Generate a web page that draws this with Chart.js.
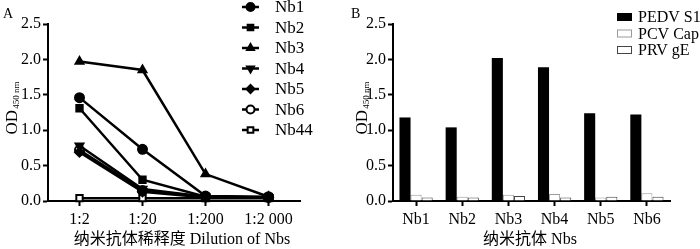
<!DOCTYPE html>
<html>
<head>
<meta charset="utf-8">
<script src="https://cdn.jsdelivr.net/npm/chart.js@4/dist/chart.umd.min.js"></script>
<style>
  html, body { margin: 0; padding: 0; background: #fff; }
  #wrap { position: relative; width: 700px; height: 249px; overflow: hidden; }
  .panel { position: absolute; top: 0; width: 350px; height: 249px; }
  #panelA { left: 0; }
  #panelB { left: 350px; }
</style>
</head>
<body>
<div id="wrap">
  <div class="panel" id="panelA"><canvas id="chartA"></canvas></div>
  <div class="panel" id="panelB"><canvas id="chartB"></canvas></div>
</div>
<script>
// Panel A: dilution curves
const dilutions = ['1:2', '1:20', '1:200', '1:2 000'];
const nb1 = [1.46, 0.73, 0.07, 0.06];
const nb2 = [1.31, 0.30, 0.06, 0.05];
const nb3 = [1.97, 1.85, 0.38, 0.06];
const nb4 = [0.78, 0.17, 0.06, 0.05];
const nb5 = [0.69, 0.13, 0.05, 0.05];
const nb6 = [0.72, 0.15, 0.06, 0.05];
const nb44 = [0.04, 0.04, 0.04, 0.04];

// Panel B: specificity bars
const nbNames = ['Nb1', 'Nb2', 'Nb3', 'Nb4', 'Nb5', 'Nb6'];
const pedvS1 = [1.18, 1.04, 2.02, 1.89, 1.24, 1.22];
const pcvCap = [0.09, 0.06, 0.09, 0.10, 0.05, 0.11];
const prvGe = [0.05, 0.05, 0.07, 0.05, 0.06, 0.06];

const yTicks = [0, 0.5, 1.0, 1.5, 2.0, 2.5];

const SERIF = '"Liberation Serif", "Times New Roman", serif';
const CJK = '"Liberation Serif", "Noto Sans CJK SC", serif';

function axisScales(labels, yWidth) {
  const grid = { display: true, drawOnChartArea: false, drawTicks: true, tickLength: 5, tickWidth: 2, tickColor: '#000', offset: false };
  return {
    x: {
      type: 'category', labels: labels, offset: true,
      grid: grid,
      border: { display: true, color: '#000', width: 2 },
      ticks: { color: '#000', font: { family: SERIF, size: 16 }, padding: 4, maxRotation: 0, autoSkip: false },
      afterFit(s) { s.height = 48; }
    },
    y: {
      min: 0, max: 2.5,
      grid: grid,
      border: { display: true, color: '#000', width: 2 },
      afterBuildTicks(s) { s.ticks = yTicks.map(v => ({ value: v })); },
      ticks: { color: '#000', font: { family: SERIF, size: 16 }, padding: 2, callback: v => Number(v).toFixed(1) },
      afterFit(s) { s.width = yWidth; }
    }
  };
}

// Y title "OD450 nm", x title, panel letter
function decorations(letter, letterX, xTitle, xTitleX) {
  return {
    id: 'decor' + letter,
    afterDraw(chart) {
      const ctx = chart.ctx;
      ctx.save();
      ctx.fillStyle = '#000';
      ctx.textBaseline = 'alphabetic';
      ctx.font = '14px ' + SERIF;
      ctx.textAlign = 'left';
      ctx.fillText(letter, letterX, 18);

      // rotated axis title with subscript
      ctx.save();
      ctx.translate(17, 108);
      ctx.rotate(-Math.PI / 2);
      ctx.font = '17px ' + SERIF;
      const w1 = ctx.measureText('OD').width;
      ctx.font = '9px ' + SERIF;
      const w2 = ctx.measureText('450 nm').width;
      const start = -(w1 + w2 + 1) / 2;
      ctx.font = '17px ' + SERIF;
      ctx.fillText('OD', start, 0);
      ctx.font = '9px ' + SERIF;
      ctx.fillText('450 nm', start + w1 + 1, 2);
      ctx.restore();

      ctx.font = '16px ' + CJK;
      ctx.textAlign = 'center';
      ctx.textBaseline = 'middle';
      ctx.fillText(xTitle, xTitleX, 240);
      ctx.restore();
    }
  };
}

const markerStyles = [
  { label: 'Nb1', data: nb1, pointStyle: 'circle', fill: '#000', rot: 0 },
  { label: 'Nb2', data: nb2, pointStyle: 'rect', fill: '#000', rot: 0 },
  { label: 'Nb3', data: nb3, pointStyle: 'triangle', fill: '#000', rot: 0 },
  { label: 'Nb4', data: nb4, pointStyle: 'triangle', fill: '#000', rot: 180 },
  { label: 'Nb5', data: nb5, pointStyle: 'rectRot', fill: '#000', rot: 0 },
  { label: 'Nb6', data: nb6, pointStyle: 'circle', fill: '#fff', rot: 0 },
  { label: 'Nb44', data: nb44, pointStyle: 'rect', fill: '#fff', rot: 0 }
];

const legendA = {
  id: 'legendA',
  afterDraw(chart) {
    const ctx = chart.ctx;
    ctx.save();
    chart.data.datasets.forEach((ds, i) => {
      const y = 7 + i * 20.5;
      ctx.strokeStyle = '#000';
      ctx.lineWidth = 2.5;
      ctx.beginPath();
      ctx.moveTo(242, y);
      ctx.lineTo(259, y);
      ctx.stroke();
      ctx.fillStyle = ds.pointBackgroundColor;
      ctx.lineWidth = 2;
      Chart.helpers.drawPoint(ctx, { pointStyle: ds.pointStyle, rotation: ds.pointRotation, radius: 4, borderWidth: 2 }, 250.5, y);
      ctx.fillStyle = '#000';
      ctx.font = '17px ' + SERIF;
      ctx.textAlign = 'left';
      ctx.textBaseline = 'middle';
      ctx.fillText(ds.label, 275, y + 1);
    });
    ctx.restore();
  }
};

new Chart(document.getElementById('chartA'), {
  type: 'line',
  data: {
    labels: dilutions,
    datasets: markerStyles.map(m => ({
      label: m.label,
      data: m.data,
      borderColor: '#000',
      borderWidth: 2.5,
      tension: 0,
      pointStyle: m.pointStyle,
      pointRotation: m.rot,
      pointRadius: 4.5,
      pointBorderWidth: 2,
      pointBorderColor: '#000',
      pointBackgroundColor: m.fill,
      clip: false
    }))
  },
  options: {
    responsive: true, maintainAspectRatio: false, animation: false,
    layout: { padding: { top: 24, right: 50, left: 0, bottom: 0 } },
    plugins: { legend: { display: false }, tooltip: { enabled: false } },
    scales: axisScales(dilutions, 48)
  },
  plugins: [legendA, decorations('A', 3, '纳米抗体稀释度 Dilution of Nbs', 182)]
});

const legendB = {
  id: 'legendB',
  afterDraw(chart) {
    const ctx = chart.ctx;
    ctx.save();
    chart.data.datasets.forEach((ds, i) => {
      const y = 17 + i * 16.5;
      ctx.fillStyle = ds.backgroundColor;
      ctx.fillRect(267, y - 4, 15, 8);
      ctx.strokeStyle = ds.borderColor;
      ctx.lineWidth = 1;
      ctx.strokeRect(267.5, y - 3.5, 14, 7);
      ctx.fillStyle = '#000';
      ctx.font = '16px ' + SERIF;
      ctx.textAlign = 'left';
      ctx.textBaseline = 'middle';
      ctx.fillText(ds.label, 288, y + 1);
    });
    ctx.restore();
  }
};

new Chart(document.getElementById('chartB'), {
  type: 'bar',
  data: {
    labels: nbNames,
    datasets: [
      { label: 'PEDV S1', data: pedvS1, backgroundColor: '#000', borderColor: '#000', borderWidth: 0 },
      { label: 'PCV Cap', data: pcvCap, backgroundColor: '#fff', borderColor: '#9a9a9a', borderWidth: 1 },
      { label: 'PRV gE', data: prvGe, backgroundColor: '#fff', borderColor: '#444', borderWidth: 1 }
    ]
  },
  options: {
    responsive: true, maintainAspectRatio: false, animation: false,
    layout: { padding: { top: 24, right: 30, left: 0, bottom: 0 } },
    datasets: { bar: { categoryPercentage: 0.72, barPercentage: 1.0 } },
    plugins: { legend: { display: false }, tooltip: { enabled: false } },
    scales: axisScales(nbNames, 43)
  },
  plugins: [legendB, decorations('B', 1, '纳米抗体 Nbs', 180)]
});
</script>
</body>
</html>
